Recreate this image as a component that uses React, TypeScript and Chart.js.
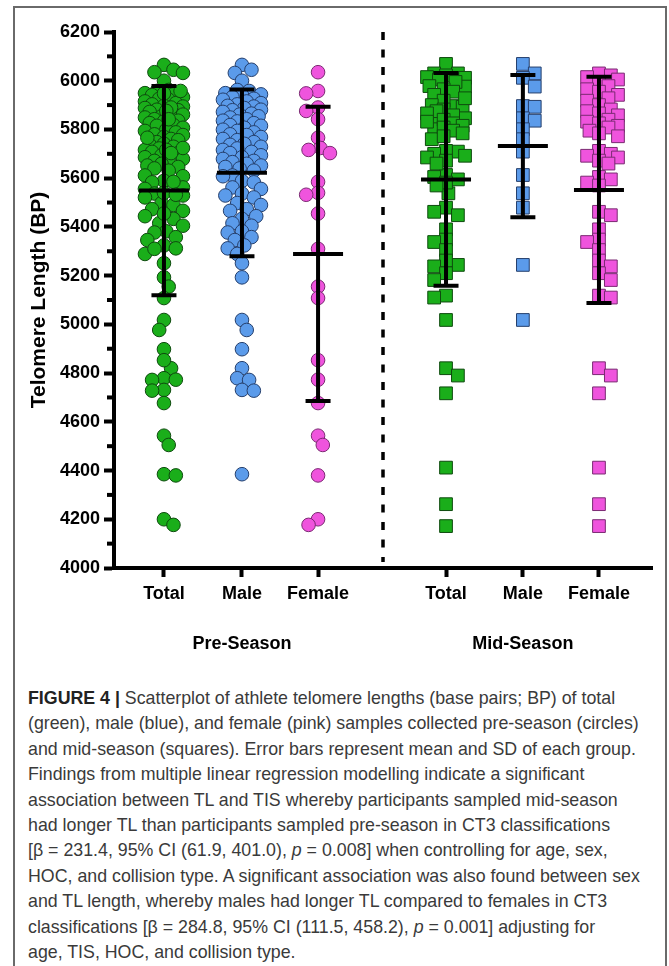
import React, { useEffect, useRef } from 'react';
import { Chart, registerables } from 'chart.js';

Chart.register(...registerables);

// ---------------- data ----------------
const CATEGORY_LABELS = ['Total', 'Male', 'Female', 'Total', 'Male', 'Female'];
const SEASON_LABELS = ['Pre-Season', 'Mid-Season'];
const Y_TITLE = 'Telomere Length (BP)';
const Y_MIN = 4000;
const Y_MAX = 6200;
const Y_STEP = 200;
const Y_MINOR_STEP = 100;

const PRE_MALE = [
  6065, 6045, 6032, 6000,
  5962, 5958, 5949, 5944, 5941, 5933, 5926, 5922, 5915, 5908,
  5903, 5897, 5894, 5888, 5881, 5879, 5872, 5865, 5861, 5854,
  5849, 5842, 5836, 5833, 5826, 5818, 5815, 5807, 5799, 5794,
  5788, 5780, 5777, 5769, 5761, 5756, 5748, 5741, 5737, 5729,
  5722, 5716, 5708, 5703, 5694, 5686, 5679, 5671, 5666, 5659,
  5652, 5646, 5640,
  5631, 5611, 5608, 5589, 5583, 5562, 5556, 5537, 5529, 5521,
  5498, 5490, 5473, 5466, 5444, 5433, 5415, 5405, 5382, 5377,
  5358, 5346, 5324, 5312, 5289,
  5251, 5193, 5018, 4977, 4898, 4820, 4779, 4772, 4731, 4728, 4385,
];
const PRE_FEMALE = [
  6035, 5958, 5948, 5890, 5876, 5842, 5766, 5724, 5716, 5703,
  5585, 5540, 5532, 5455, 5310, 5155, 5108, 4853, 4773, 4677,
  4543, 4505, 4380, 4200, 4177,
];
const PRE_TOTAL = [...PRE_MALE, ...PRE_FEMALE];

const MID_MALE = [
  6069, 6030, 6012, 5976, 5896, 5893, 5846, 5836, 5801, 5760,
  5709, 5613, 5538, 5479, 5244, 5018,
];
const MID_FEMALE = [
  6030, 6022, 6015, 6005, 5995, 5978, 5965, 5955, 5942,
  5928, 5918, 5900, 5882, 5875, 5866, 5858,
  5840, 5832, 5825, 5815, 5808, 5795, 5784, 5772,
  5712, 5700, 5692, 5685, 5672, 5660,
  5605, 5595, 5582, 5570,
  5462, 5448,
  5390, 5348, 5338, 5305, 5262, 5238, 5210, 5182,
  5118, 5110,
  4820, 4790, 4717, 4412, 4262, 4172,
];
const MID_TOTAL = [...MID_MALE, ...MID_FEMALE];

const GROUP_VALUES = [PRE_TOTAL, PRE_MALE, PRE_FEMALE, MID_TOTAL, MID_MALE, MID_FEMALE];
const GROUP_MEANS = [5549, 5622, 5289, 5595, 5732, 5552];
const GROUP_SDS = [429, 342, 604, 437, 292, 464];

// ---------------- layout / style ----------------
const CAT_X = [0.65, 1.665, 2.655, 4.32, 5.32, 6.31];
const DIVIDER_X = 3.5;
const SEASON_AT = [1, 4];
const X_MIN = 0;
const X_MAX = 7;
const PLOT_W = 538;
const PLOT_H = 536;

const GREEN = { fill: '#1AAE1A', line: '#0E4A0E' };
const BLUE = { fill: '#5B9BEA', line: '#253F6C' };
const PINK = { fill: '#EF54DD', line: '#7A2A72' };
const GROUP_COLORS = [GREEN, BLUE, PINK, GREEN, BLUE, PINK];
const GROUP_SQUARE = [false, false, false, true, true, true];

const FONT = "'Liberation Sans', Arial, Helvetica, sans-serif";

function swarmOffsets(values: number[], diam: number, maxHalf: number, square: boolean): number[] {
  const pxY = PLOT_H / (Y_MAX - Y_MIN);
  const order = values.map((_, i) => i).sort((a, b) => values[b] - values[a]);
  const placed: { x: number; y: number }[] = [];
  const out = new Array(values.length).fill(0);
  const steps = 8;
  const step = maxHalf / steps;
  const minGap = diam * 0.74;
  order.forEach((idx, k) => {
    const py = values[idx] * pxY;
    const cands = [0];
    for (let j = 1; j <= steps; j++) {
      if (k % 2) cands.push(j * step, -j * step);
      else cands.push(-j * step, j * step);
    }
    let best = 0;
    let bestD = -1;
    for (const c of cands) {
      let dmin = Infinity;
      for (const p of placed) {
        const dx = p.x - c;
        const dy = p.y - py;
        const d = square ? Math.max(Math.abs(dx), Math.abs(dy)) : Math.hypot(dx, dy);
        if (d < dmin) dmin = d;
      }
      if (dmin >= minGap) {
        best = c;
        break;
      }
      if (dmin > bestD) {
        bestD = dmin;
        best = c;
      }
    }
    placed.push({ x: best, y: py });
    out[idx] = best;
  });
  return out;
}

const overlayPlugin = {
  id: 'overlay',
  afterDatasetsDraw(chart: any) {
    const { ctx, scales, chartArea } = chart;
    const x = scales.x;
    const y = scales.y;
    ctx.save();
    // error bars (mean and SD)
    ctx.strokeStyle = '#000';
    ctx.lineWidth = 4;
    ctx.lineCap = 'butt';
    GROUP_MEANS.forEach((m, i) => {
      const cx = x.getPixelForValue(CAT_X[i]);
      const top = y.getPixelForValue(m + GROUP_SDS[i]);
      const bot = y.getPixelForValue(m - GROUP_SDS[i]);
      const my = y.getPixelForValue(m);
      ctx.beginPath();
      ctx.moveTo(cx, top);
      ctx.lineTo(cx, bot);
      ctx.moveTo(cx - 12.5, top);
      ctx.lineTo(cx + 12.5, top);
      ctx.moveTo(cx - 12.5, bot);
      ctx.lineTo(cx + 12.5, bot);
      ctx.moveTo(cx - 25, my);
      ctx.lineTo(cx + 25, my);
      ctx.stroke();
    });
    // divider
    const dx = x.getPixelForValue(DIVIDER_X);
    ctx.setLineDash([8, 9.5]);
    ctx.lineWidth = 3.5;
    ctx.beginPath();
    ctx.moveTo(dx, chartArea.top);
    ctx.lineTo(dx, chartArea.bottom - 6);
    ctx.stroke();
    ctx.restore();
  },
  afterDraw(chart: any) {
    const { ctx, scales, chartArea } = chart;
    const x = scales.x;
    const y = scales.y;
    ctx.save();
    // minor ticks on y axis
    ctx.strokeStyle = '#000';
    ctx.lineWidth = 4;
    for (let v = Y_MIN + Y_MINOR_STEP; v < Y_MAX; v += Y_STEP) {
      const py = y.getPixelForValue(v);
      ctx.beginPath();
      ctx.moveTo(chartArea.left - 7, py);
      ctx.lineTo(chartArea.left, py);
      ctx.stroke();
    }
    // season labels
    ctx.fillStyle = '#000';
    ctx.font = `bold 18px ${FONT}`;
    ctx.textAlign = 'center';
    ctx.textBaseline = 'middle';
    SEASON_LABELS.forEach((s, i) => {
      ctx.fillText(s, x.getPixelForValue(CAT_X[SEASON_AT[i]]), chartArea.bottom + 76);
    });
    ctx.restore();
  },
};

function ScatterChart() {
  const ref = useRef<HTMLCanvasElement | null>(null);
  useEffect(() => {
    if (!ref.current) return;
    const pxX = PLOT_W / (X_MAX - X_MIN);
    const datasets = GROUP_VALUES.map((vals, g) => {
      const sq = GROUP_SQUARE[g];
      const offs = swarmOffsets(vals, sq ? 13 : 14, 19, sq);
      return {
        label: `${CATEGORY_LABELS[g]}-${g}`,
        data: vals.map((v, i) => ({ x: CAT_X[g] + offs[i] / pxX, y: v })),
        pointStyle: sq ? 'rect' : 'circle',
        pointRadius: sq ? 9 : 6.8,
        pointBackgroundColor: GROUP_COLORS[g].fill,
        pointBorderColor: GROUP_COLORS[g].line,
        pointBorderWidth: 1,
        showLine: false,
      };
    });
    const chart = new Chart(ref.current, {
      type: 'scatter',
      data: { datasets } as any,
      options: {
        animation: false,
        responsive: false,
        devicePixelRatio: 1,
        layout: { padding: { left: 0, right: 17, top: 32, bottom: 0 } },
        plugins: { legend: { display: false }, tooltip: { enabled: false } },
        scales: {
          x: {
            type: 'linear',
            min: X_MIN,
            max: X_MAX,
            afterBuildTicks: (s: any) => {
              s.ticks = CAT_X.map((v) => ({ value: v }));
            },
            afterFit: (s: any) => {
              s.height = 112;
            },
            ticks: {
              autoSkip: false,
              maxRotation: 0,
              padding: 6,
              color: '#000',
              font: { family: FONT, size: 18, weight: 'bold' },
              callback: (_v: any, i: number) => CATEGORY_LABELS[i],
            },
            grid: { drawOnChartArea: false, drawTicks: true, tickLength: 9, tickWidth: 4, tickColor: '#000' },
            border: { display: true, color: '#000', width: 4 },
          },
          y: {
            type: 'linear',
            min: Y_MIN,
            max: Y_MAX,
            afterFit: (s: any) => {
              s.width = 114;
            },
            ticks: {
              stepSize: Y_STEP,
              padding: 4,
              color: '#000',
              font: { family: FONT, size: 18, weight: 'bold' },
              callback: (v: any) => String(v),
            },
            grid: { drawOnChartArea: false, drawTicks: true, tickLength: 10, tickWidth: 4, tickColor: '#000' },
            border: { display: true, color: '#000', width: 4 },
            title: {
              display: true,
              text: Y_TITLE,
              color: '#000',
              font: { family: FONT, size: 21, weight: 'bold' },
              padding: { top: 27, bottom: 0 },
            },
          },
        },
      } as any,
      plugins: [overlayPlugin],
    });
    return () => chart.destroy();
  }, []);
  return (
    <canvas
      ref={ref}
      width={669}
      height={680}
      style={{ position: 'absolute', left: 0, top: 0, width: 669, height: 680 }}
    />
  );
}

const CAPTION_LINES: React.ReactNode[] = [
  <>
    <b style={{ color: '#222' }}>FIGURE 4 |</b> Scatterplot of athlete telomere lengths (base pairs; BP) of total
  </>,
  '(green), male (blue), and female (pink) samples collected pre-season (circles)',
  'and mid-season (squares). Error bars represent mean and SD of each group.',
  'Findings from multiple linear regression modelling indicate a significant',
  'association between TL and TIS whereby participants sampled mid-season',
  'had longer TL than participants sampled pre-season in CT3 classifications',
  <>
    [β = 231.4, 95% CI (61.9, 401.0), <i>p</i> = 0.008] when controlling for age, sex,
  </>,
  'HOC, and collision type. A significant association was also found between sex',
  'and TL length, whereby males had longer TL compared to females in CT3',
  <>
    classifications [β = 284.8, 95% CI (111.5, 458.2), <i>p</i> = 0.001] adjusting for
  </>,
  'age, TIS, HOC, and collision type.',
];

export default function App() {
  return (
    <div>
      <div
        style={{
          position: 'absolute',
          left: 13,
          top: 6,
          width: 654,
          height: 980,
          border: '2px solid #6a6a6a',
          boxSizing: 'border-box',
        }}
      />
      <ScatterChart />
      <div
        style={{
          position: 'absolute',
          left: 28,
          top: 686,
          fontFamily: FONT,
          fontSize: 17.8,
          lineHeight: '25.4px',
          color: '#3a3a3a',
          whiteSpace: 'nowrap',
        }}
      >
        {CAPTION_LINES.map((l, i) => (
          <div key={i}>{l}</div>
        ))}
      </div>
    </div>
  );
}
